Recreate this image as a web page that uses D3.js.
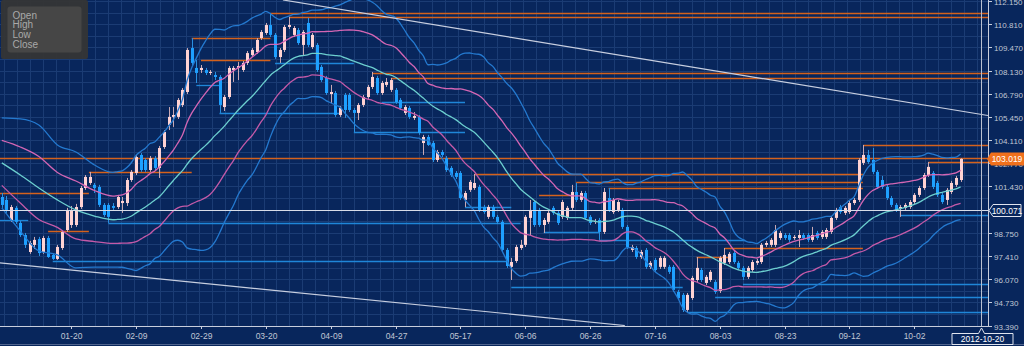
<!DOCTYPE html>
<html><head><meta charset="utf-8">
<script src="https://cdn.jsdelivr.net/npm/d3@7"></script>
<style>
html,body{margin:0;padding:0;background:#08265c;overflow:hidden}
svg{display:block}
text{font-family:"Liberation Sans",Arial,sans-serif}
</style></head><body>
<svg id="c" width="1024" height="346"></svg>
<script>
// ---------- DATA ----------
const opens=[100.82,100.65,99.49,100.19,99.32,98.62,97.64,98.05,98.39,97.64,98.45,97.47,97.24,97.87,98.91,99.20,99.20,100.24,101.34,101.63,
101.52,101.40,100.36,100.36,100.30,100.24,100.47,100.47,101.80,102.21,103.25,102.96,102.38,103.06,102.50,103.71,104.98,105.45,105.45,106.14,
106.89,109.43,108.28,108.16,108.16,107.99,107.87,107.76,106.02,106.60,108.16,108.28,108.16,108.57,109.03,109.20,110.01,110.30,110.76,110.19,
108.91,109.32,110.65,110.19,110.47,109.61,110.88,109.49,109.61,108.34,107.70,106.77,106.83,105.56,106.72,106.72,105.85,105.68,106.14,106.60,
107.18,107.70,106.83,107.30,107.01,107.01,106.43,105.68,105.97,105.39,105.45,103.94,104.29,103.94,102.96,103.42,103.06,102.50,102.21,102.21,
100.65,101.23,101.34,101.40,100.24,99.67,100.24,99.67,99.38,97.76,96.78,97.12,97.87,98.05,99.61,100.53,100.07,99.20,99.38,100.19,
99.90,99.67,99.61,100.19,101.11,100.65,101.05,99.67,99.38,99.49,98.80,100.76,99.95,100.07,100.07,99.09,97.76,97.87,97.35,97.76,
96.78,97.18,96.78,96.78,96.78,96.78,95.33,95.16,94.29,94.98,96.02,96.60,95.85,96.02,95.91,95.39,97.01,97.06,97.58,97.01,
96.72,96.20,96.60,97.01,97.06,98.05,98.05,98.05,98.45,98.62,98.62,98.45,98.45,98.62,98.62,98.34,98.74,98.51,98.51,98.80,
99.61,100.24,99.90,99.95,100.47,100.65,102.79,103.25,102.96,102.27,101.80,101.40,100.76,100.36,100.13,100.19,100.24,100.53,100.94,101.34,
102.09,102.21,101.63,100.94,100.65,101.11,101.52,101.80];
const highs=[101.05,100.88,100.36,100.30,99.43,98.74,98.28,98.51,98.51,98.57,98.57,97.58,98.05,98.91,100.19,100.30,100.42,101.46,102.09,102.27,
101.63,101.52,100.47,100.47,100.47,100.94,100.82,101.92,102.38,103.25,103.36,103.06,103.19,103.19,103.77,104.69,106.02,106.02,106.54,107.12,
109.43,110.01,108.74,108.45,108.28,108.16,108.05,107.87,106.72,108.39,108.39,108.62,108.68,109.26,109.43,110.01,110.47,110.88,111.46,110.30,
109.43,110.76,111.23,110.70,110.59,110.47,111.17,110.30,109.72,108.45,107.82,107.30,106.95,106.08,106.83,106.83,105.97,106.25,106.72,107.30,
108.05,107.82,107.53,107.70,107.70,107.12,106.54,106.14,106.08,105.73,105.56,104.41,104.41,104.06,103.54,103.54,103.19,102.61,102.32,102.32,
101.17,101.80,102.15,101.52,100.36,100.36,100.36,99.78,99.49,97.87,97.30,98.05,98.34,99.78,100.65,100.65,100.19,99.61,100.01,100.30,
100.01,100.65,100.30,101.52,101.63,101.17,101.17,99.78,99.55,99.61,101.34,101.34,100.76,100.65,100.19,99.20,98.05,97.99,97.76,97.87,
97.12,97.30,97.41,97.41,96.89,96.89,95.45,95.27,95.27,96.26,97.35,96.72,96.31,96.60,96.02,97.41,97.87,97.64,97.70,97.12,
96.83,96.83,97.18,97.24,98.16,98.28,98.45,99.20,98.86,98.74,98.74,98.62,98.91,98.74,98.74,99.09,98.86,98.91,99.03,99.72,
100.19,100.36,100.30,100.59,100.76,103.06,103.83,103.54,103.65,102.38,102.04,101.52,100.88,100.47,100.36,100.47,100.65,101.05,101.46,102.21,
102.84,102.32,101.75,101.05,101.34,101.75,102.04,103.06];
const lows=[100.19,99.90,99.38,99.26,98.51,97.87,97.53,97.81,97.41,97.53,97.30,97.18,97.18,97.76,98.80,99.03,99.09,100.13,101.23,101.52,
101.05,100.24,99.67,99.32,100.07,100.13,99.90,100.30,101.69,102.09,102.27,102.27,102.27,102.38,101.92,103.60,104.69,104.87,105.33,106.02,
106.77,108.45,107.41,107.99,107.87,107.87,107.58,105.68,105.79,106.49,107.47,107.58,108.05,108.45,108.91,109.09,109.90,110.19,110.07,108.80,
108.57,109.20,110.53,110.07,109.61,109.03,109.49,109.38,108.05,107.47,106.72,106.25,105.45,105.45,105.39,105.73,104.58,105.27,106.02,106.49,
107.06,106.72,106.72,107.18,106.89,106.20,105.85,105.56,105.33,105.27,104.41,103.25,103.77,102.84,102.84,103.13,102.27,101.98,101.86,100.65,
100.24,101.11,101.23,99.95,99.84,99.55,99.55,99.26,97.64,96.72,96.02,97.01,97.76,97.93,98.62,99.09,99.09,98.74,99.26,99.78,
99.20,99.55,99.49,100.07,100.53,100.53,99.49,99.20,99.26,98.34,98.68,99.95,99.84,99.95,98.97,97.81,97.64,97.24,97.24,96.66,
96.66,96.49,96.66,96.66,96.37,95.33,94.87,94.17,94.17,94.87,95.91,95.91,95.73,95.91,95.22,95.27,96.89,96.95,96.95,96.60,
96.02,96.08,96.49,96.89,96.95,97.93,97.93,97.93,98.34,98.34,98.22,98.34,97.93,98.34,98.22,98.22,98.34,98.39,98.39,98.68,
99.49,99.84,99.78,99.84,100.36,100.53,102.67,102.73,102.15,101.28,101.28,100.65,100.24,99.95,99.67,100.07,100.13,100.42,100.82,101.23,
101.98,101.28,100.82,100.42,100.36,100.99,101.40,101.69];
const closes=[100.36,100.07,100.24,99.38,98.62,98.05,98.16,98.34,97.58,98.45,97.35,97.24,97.93,98.80,100.07,100.07,100.24,101.34,101.98,101.98,
101.34,100.36,99.78,99.67,100.19,100.82,100.59,101.80,102.27,103.13,102.38,102.38,103.06,102.50,103.65,104.58,105.45,105.56,106.43,107.01,
109.32,108.57,107.99,108.28,107.99,108.05,107.76,106.14,106.60,108.28,108.28,108.39,108.57,109.14,109.32,109.90,110.36,110.76,110.19,108.91,
109.32,110.65,110.76,110.59,109.72,110.36,109.61,110.19,108.16,107.58,106.83,106.89,105.56,105.97,105.85,105.85,105.68,106.14,106.60,107.18,
107.76,106.83,107.41,107.47,107.58,106.31,105.97,106.02,105.45,105.50,104.52,104.29,103.83,102.96,103.42,103.25,102.38,102.09,101.98,100.76,
101.05,101.69,101.63,100.07,99.95,100.24,99.67,99.38,97.76,96.83,97.06,97.93,98.05,99.67,100.07,99.20,99.20,99.49,99.90,99.90,
99.32,100.53,100.19,101.11,100.65,101.05,99.61,99.32,99.43,98.80,101.11,100.07,100.65,100.53,99.09,97.93,97.93,97.35,97.64,96.78,
97.01,96.60,97.30,97.30,96.49,95.45,94.98,94.29,95.16,96.14,96.72,96.02,96.20,96.49,95.33,97.30,97.47,97.53,97.06,96.72,
96.20,96.72,97.06,97.12,98.05,98.16,98.34,98.91,98.74,98.45,98.34,98.51,98.62,98.45,98.34,98.62,98.45,98.80,98.91,99.61,
100.07,99.95,100.19,100.47,100.65,102.96,103.25,102.84,102.27,101.40,101.40,100.76,100.36,100.07,100.24,100.36,100.53,100.94,101.34,102.09,
102.56,101.40,100.94,100.53,101.23,101.63,101.92,103.02];

const xTickIndex=[15,29,43,57,71,85,99,113,127,141,155,169,183,197];
const xTickLabels=["01-20","02-09","02-29","03-20","04-09","04-27","05-17","06-06","06-26","07-16","08-03","08-23","09-12","10-02"];
const yTickValues=[93.39,94.73,96.07,97.41,98.75,100.09,101.43,102.77,104.11,105.45,106.79,108.13,109.47,110.81,112.15];

// Bollinger settings (middle = SMA, inner pink = +-1 sd, outer blue = +-2 sd)
const bbPeriod=25;
// band values for the first bars (their window starts before the chart)
const earlyIndex=[0,4,8,12,16,20];
const earlyMid=[102.79,102.09,101.34,100.65,100.07,99.72];
const earlyUpper=[105.39,105.33,104.98,103.83,103.42,102.67];

// resistance (orange) and support (blue) levels: price, first bar, last bar (null = open to the right)
const resLevel=[111.44,111.25,108.01,107.68,109.99,108.74,103.06,101.03,102.25,98.86,102.15,101.67,101.32,100.94,103.83,102.86,97.86,97.37];
const resStart=[58,62,80,84,41,43,-1,-1,18.8,10,102,124,131,116,186,200,156,150];
const resEnd=[null,null,null,null,58,58,null,18.8,41,18.8,185.9,185.9,185.9,123,null,null,185.9,157];
const supLevel=[99.49,99.30,97.14,107.30,105.66,108.55,106.33,104.60,100.26,98.78,98.34,95.64,94.19,95.06,95.79,99.78];
const supStart=[-1,23,11,42,47,59,82,76,100,117,129,110,148,154,160,194];
const supEnd=[5.7,112,109,47,73,76,100,100,110,129,160.5,147,null,null,null,null];

// trend lines: [bar, price] pairs
const trendUpper=[[60.7,112.21],[212.9,105.53]];
const trendLower=[[-0.4,97.01],[134.5,93.39]];

const lastPrice=103.019;
const crossPrice=100.071;
const crossBar=211.4;
const crossLabel="2012-10-20";
const legendItems=["Open","High","Low","Close"];

// ---------- CHART ----------
const W=1024,H=346,PR=988,PB=326;
const svg=d3.select("#c");
const x=d3.scaleLinear().domain([0,207]).range([1.8,1.8+4.632*207]);
const y=d3.scaleLinear().domain([93.39,112.15]).range([325.5,1]);

svg.append("rect").attr("width",W).attr("height",H).attr("fill","#08265c");
svg.append("defs").append("clipPath").attr("id","clip").append("rect").attr("width",PR).attr("height",PB);

const grid=svg.append("g").attr("clip-path","url(#clip)");
const vStep=14/5;
for(let v=xTickIndex[0]-0.5-vStep*6; x(v)<PR; v+=vStep){
  grid.append("line").attr("x1",Math.round(x(v))+0.5).attr("x2",Math.round(x(v))+0.5).attr("y1",0).attr("y2",PB)
   .attr("stroke","#1b3c74").attr("stroke-width",1);
}
const hStep=(yTickValues[1]-yTickValues[0])/2;
for(let p=yTickValues[0]; p<=112.2; p+=hStep){
  grid.append("line").attr("y1",Math.round(y(p))+0.5).attr("y2",Math.round(y(p))+0.5).attr("x1",0).attr("x2",PR)
   .attr("stroke","#1b3c74").attr("stroke-width",1);
}

const plot=svg.append("g").attr("clip-path","url(#clip)");
const xEnd=b=> b===null? PR : x(b);
resLevel.forEach((p,i)=>{
  plot.append("line").attr("x1",x(resStart[i])).attr("x2",xEnd(resEnd[i]))
   .attr("y1",Math.round(y(p))+0.5).attr("y2",Math.round(y(p))+0.5)
   .attr("stroke","#d4621c").attr("stroke-width",1.3);
});
supLevel.forEach((p,i)=>{
  plot.append("line").attr("x1",x(supStart[i])).attr("x2",xEnd(supEnd[i]))
   .attr("y1",Math.round(y(p))+0.5).attr("y2",Math.round(y(p))+0.5)
   .attr("stroke","#1f86d8").attr("stroke-width",1.3);
});

// candles
const bars=d3.range(opens.length);
const cg=plot.append("g");
cg.selectAll("line.w").data(bars).join("line")
  .attr("x1",i=>Math.round(x(i))+0.5).attr("x2",i=>Math.round(x(i))+0.5)
  .attr("y1",i=>y(highs[i])).attr("y2",i=>y(lows[i]))
  .attr("stroke",i=>closes[i]>=opens[i]?"#c9a9b4":"#2a8fe0").attr("stroke-width",1);
cg.selectAll("rect.b").data(bars).join("rect")
  .attr("x",i=>Math.round(x(i))-1).attr("width",3)
  .attr("y",i=>y(Math.max(opens[i],closes[i])))
  .attr("height",i=>Math.max(1,Math.abs(y(opens[i])-y(closes[i]))))
  .attr("fill",i=>closes[i]>=opens[i]?"#ffd3d3":"#1ea0ff");

// Bollinger bands: early read-off part + computed part
const pts=[];
earlyIndex.forEach((b,k)=>pts.push({i:b,mid:earlyMid[k],sd:(earlyUpper[k]-earlyMid[k])/2}));
for(let i=bbPeriod-1;i<closes.length;i++){
  const w=closes.slice(i-bbPeriod+1,i+1);
  const m=d3.mean(w);
  const sd=Math.sqrt(d3.mean(w,v=>(v-m)*(v-m)));
  pts.push({i,mid:m,sd});
}
const bandLine=k=>d3.line().curve(d3.curveMonotoneX).x(d=>x(d.i)).y(d=>y(d.mid+k*d.sd))(pts);
[[2,"#2479cf"],[-2,"#2479cf"],[-1,"#c45aa8"],[0,"#6ccfcf"],[1,"#d466b4"]].forEach(([k,c])=>{
  plot.append("path").attr("d",bandLine(k)).attr("fill","none").attr("stroke",c).attr("stroke-width",1.3);
});

[trendUpper,trendLower].forEach(t=>{
  plot.append("line").attr("x1",x(t[0][0])).attr("y1",y(t[0][1])).attr("x2",x(t[1][0])).attr("y2",y(t[1][1]))
   .attr("stroke","#c8cfe0").attr("stroke-width",1.2);
});

plot.append("line").attr("x1",0).attr("x2",PR).attr("y1",Math.round(y(crossPrice))+0.5).attr("y2",Math.round(y(crossPrice))+0.5)
  .attr("stroke","#d8dde8").attr("stroke-width",1);
svg.append("line").attr("x1",Math.round(x(crossBar))+0.5).attr("x2",Math.round(x(crossBar))+0.5).attr("y1",0).attr("y2",PB)
  .attr("stroke","#b8c0d0").attr("stroke-width",1);

// axes
const axisColor="#c8cedc";
svg.append("line").attr("x1",PR+0.5).attr("x2",PR+0.5).attr("y1",0).attr("y2",PB).attr("stroke",axisColor);
svg.append("line").attr("x1",0).attr("x2",PR).attr("y1",PB+0.5).attr("y2",PB+0.5).attr("stroke",axisColor);
const cp=Math.round(y(crossPrice))+0.5;
const lp=Math.round(y(lastPrice));
const ya=svg.append("g");
yTickValues.forEach(v=>{
  const yy=Math.round(y(v))+0.5;
  ya.append("line").attr("x1",PR).attr("x2",PR+4).attr("y1",yy).attr("y2",yy).attr("stroke",axisColor);
  if(Math.abs(yy-cp)<5) return; // fully covered by the cross label in the reference
  ya.append("text").attr("x",PR+6).attr("y",yy+3).attr("font-size",8).attr("fill","#c0c6d4").text(v.toFixed(3));
});
const xa=svg.append("g");
xTickIndex.forEach((b,k)=>{
  const xx=Math.round(x(b))+0.5;
  xa.append("line").attr("x1",xx).attr("x2",xx).attr("y1",PB).attr("y2",PB+3).attr("stroke",axisColor);
  xa.append("text").attr("x",xx).attr("y",PB+13).attr("text-anchor","middle").attr("font-size",8.5).attr("fill","#c0c6d4").text(xTickLabels[k]);
});
svg.append("line").attr("x1",0).attr("x2",W).attr("y1",H-1.5).attr("y2",H-1.5).attr("stroke","#50648e");

svg.append("path").attr("d",`M${PR-1},${lp} L${PR+3},${lp-6.5} L${W},${lp-6.5} L${W},${lp+6.5} L${PR+3},${lp+6.5} Z`).attr("fill","#f0701c");
svg.append("text").attr("x",PR+19).attr("y",lp+3.2).attr("text-anchor","middle").attr("font-size",8.5).attr("fill","#ffffff").text(lastPrice.toFixed(3));
svg.append("path").attr("d",`M${PR+1},${cp} L${PR+5},${cp-6} L${W-3},${cp-6} L${W-3},${cp+6} L${PR+5},${cp+6} Z`).attr("fill","#08265c").attr("stroke","#e0e4ee");
svg.append("text").attr("x",PR+19).attr("y",cp+3.2).attr("text-anchor","middle").attr("font-size",8.5).attr("fill","#ffffff").text(crossPrice.toFixed(3));
const cx=Math.round(x(crossBar))+0.5;
svg.append("path").attr("d",`M${cx-29.5},${333.5} L${cx-3},${333.5} L${cx},${328} L${cx+3},${333.5} L${cx+31.5},${333.5} L${cx+31.5},${344.5} L${cx-29.5},${344.5} Z`)
  .attr("fill","#08265c").attr("stroke","#e0e4ee");
svg.append("text").attr("x",cx+1).attr("y",342).attr("text-anchor","middle").attr("font-size",8.5).attr("fill","#ffffff").text(crossLabel);

const lg=svg.append("g");
lg.append("rect").attr("x",1).attr("y",0).attr("width",87).attr("height",59).attr("rx",2).attr("fill","#353535").attr("opacity",0.95);
lg.append("rect").attr("x",7.5).attr("y",6.5).attr("width",74).attr("height",46).attr("rx",3).attr("fill","#464646");
legendItems.forEach((t,k)=>{
  lg.append("text").attr("x",12.5).attr("y",18.5+k*9.8).attr("font-size",10).attr("fill","#a9a9a9").text(t);
});
</script>
</body></html>
